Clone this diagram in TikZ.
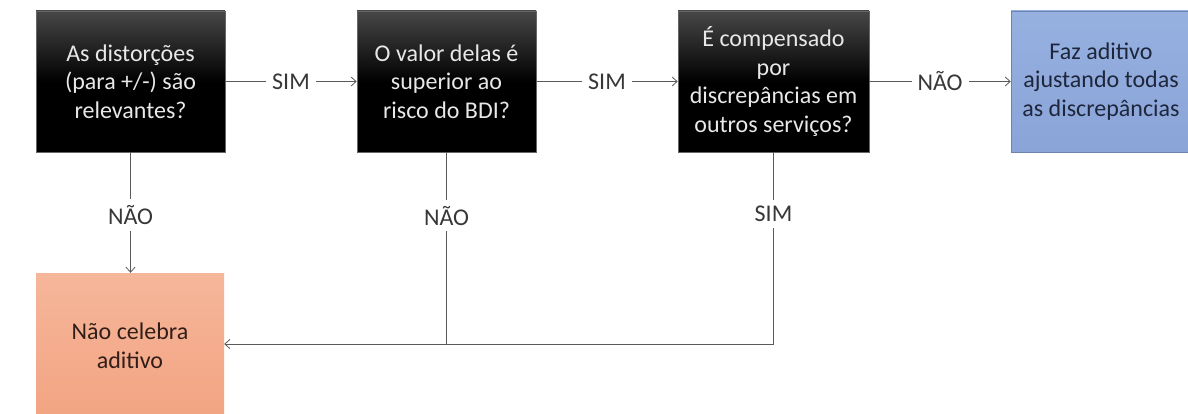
\documentclass[tikz,border=0pt]{standalone}
\usepackage{fontspec}
\setmainfont{Carlito}
\usetikzlibrary{arrows.meta}
\definecolor{linegray}{RGB}{90,90,90}
\definecolor{lblgray}{RGB}{55,55,55}
\definecolor{boxtext}{RGB}{232,232,232}
\definecolor{bluetop}{RGB}{150,176,224}
\definecolor{bluebot}{RGB}{138,164,216}
\definecolor{salmtop}{RGB}{246,182,154}
\definecolor{salmbot}{RGB}{242,164,130}
\definecolor{bluetext}{RGB}{30,38,60}
\definecolor{salmtext}{RGB}{50,30,25}
\tikzset{
  every node/.style={font=\fontsize{24}{28.5}\selectfont},
  qbox/.style={rectangle, draw=black!60, line width=0.6pt, top color=black!72, bottom color=black, middle color=black, shading angle=0, text=boxtext, align=center, minimum height=141pt, inner sep=0pt},
  bbox/.style={rectangle, draw=bluebot!80!black, line width=0.5pt, top color=bluetop, bottom color=bluebot, text=bluetext, align=center, minimum height=141pt, inner sep=0pt},
  sbox/.style={rectangle, top color=salmtop, bottom color=salmbot, text=salmtext, align=center, inner sep=0pt},
  conn/.style={draw=linegray, line width=0.9pt},
  arr/.style={conn, -{Straight Barb[length=5pt,width=9pt,line width=0.8pt]}},
  lbl/.style={fill=white, text=lblgray, inner sep=6pt}
}
\begin{document}
\begin{tikzpicture}[x=1pt,y=-1pt]
\useasboundingbox (0,0) rectangle (1188,414);
\node[qbox, minimum width=189pt] (b1) at (130.5,81.5) {As distorções\\(para +/-) são\\relevantes?};
\node[qbox, minimum width=179pt] (b2) at (446.5,81.5) {O valor delas é\\superior ao\\risco do BDI?};
\node[qbox, minimum width=191pt] (b3) at (773.5,81.5) {É compensado\\por\\discrepâncias em\\outros serviços?};
\node[bbox, minimum width=180pt] (b4) at (1101,81.5) {Faz aditivo\\ajustando todas\\as discrepâncias};
\node[sbox, minimum width=188pt, minimum height=146pt] (b5) at (130,346) {Não celebra\\aditivo};
\coordinate (j2) at (b2.south |- 0,344);
\coordinate (j3) at (b3.south |- 0,344);
\coordinate (e5) at (b5.east |- 0,344);
\draw[arr] (b1.east) -- node[lbl] {SIM} (b2.west);
\draw[arr] (b2.east) -- node[lbl] {SIM} (b3.west);
\draw[arr] (b3.east) -- node[lbl] {NÃO} (b4.west);
\draw[arr] (b1.south) -- node[lbl, pos=0.52] {NÃO} (b1.south |- b5.north);
\draw[arr] (b2.south) -- node[lbl, pos=0.33] {NÃO} (j2) -- (e5);
\draw[conn] (b3.south) -- node[lbl, pos=0.32] {SIM} (j3) -- (j2);
\end{tikzpicture}
\end{document}
